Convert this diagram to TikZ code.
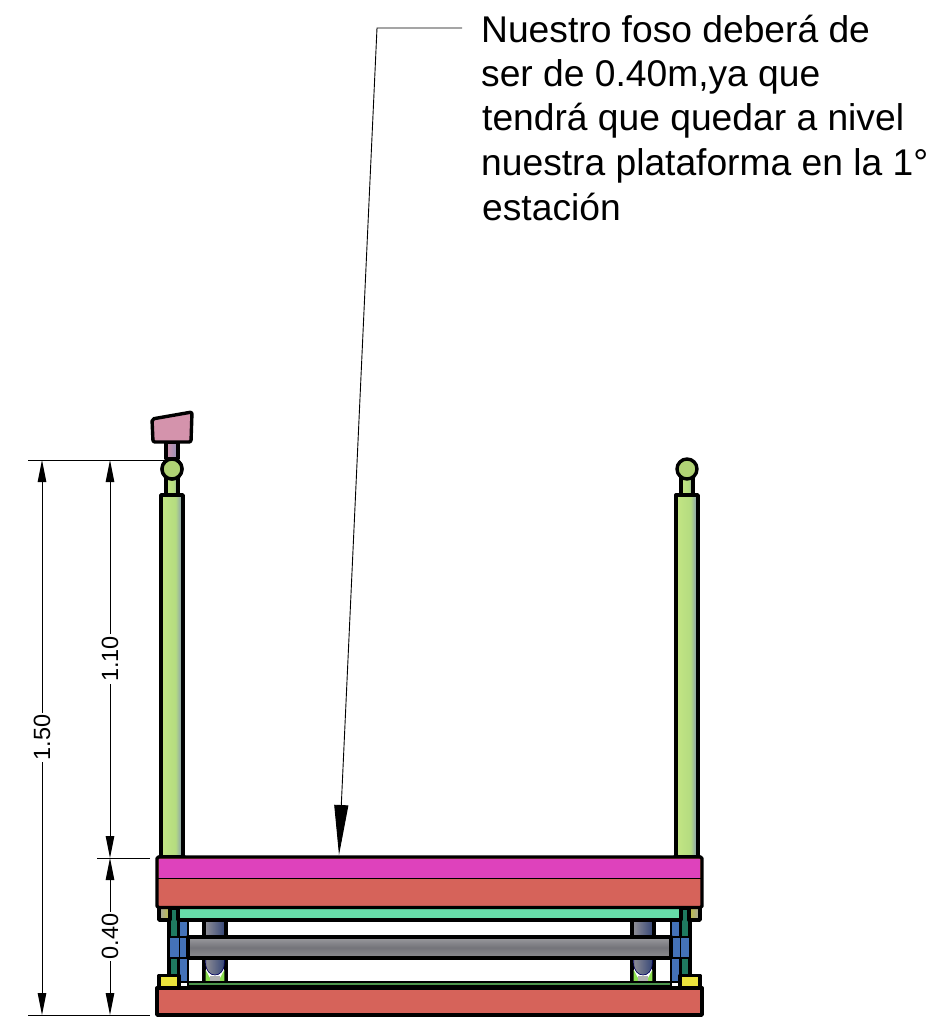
\documentclass[tikz,border=0pt]{standalone}
\usepackage{fontspec}
\setmainfont{Liberation Sans}
\usetikzlibrary{arrows.meta}
\definecolor{rojo}{HTML}{D6635A}
\definecolor{magen}{HTML}{DE42BC}
\definecolor{menta}{HTML}{66DBA8}
\definecolor{verdeo}{HTML}{1F7A60}
\definecolor{azul}{HTML}{4472B8}
\definecolor{amar}{HTML}{ECE43C}
\definecolor{rosa}{HTML}{D493AC}
\definecolor{bola}{HTML}{B0D274}
\definecolor{postel}{HTML}{C4E684}
\definecolor{postem}{HTML}{B4DC80}
\definecolor{poster}{HTML}{8090BC}
\definecolor{patal}{HTML}{8C8C94}
\definecolor{patar}{HTML}{384878}
\definecolor{tubot}{HTML}{9C9CA0}
\definecolor{tubom}{HTML}{74747A}
\definecolor{tubob}{HTML}{8E8E92}
\definecolor{brote}{HTML}{8CE050}
\definecolor{tallo}{HTML}{9090B8}
\pgfdeclarehorizontalshading{postes}{100bp}{color(0bp)=(postel); color(25bp)=(postel); color(58bp)=(postem); color(75bp)=(poster); color(100bp)=(poster)}
\tikzset{
  obj/.style={draw=black,line width=3.4pt,line join=round},
  thick2/.style={draw=black,line width=2.4pt},
  dimline/.style={draw=black,line width=0.9pt},
  dimarrow/.style={dimline,{Triangle[length=22pt,width=8.5pt]}-{Triangle[length=22pt,width=8.5pt]}},
  dimtxt/.style={rotate=90,font=\fontsize{23.5}{26}\selectfont,fill=white,inner sep=2pt},
  nota/.style={anchor=base west,inner sep=0pt,font=\fontsize{37.2}{40}\selectfont},
  poste/.style={obj,shade,shading=postes},
  tubo/.style={obj,top color=tubot,bottom color=tubob,middle color=tubom},
  pata/.style={left color=patal,right color=patar},
}
\begin{document}
\begin{tikzpicture}[x=1pt,y=-1pt]
\useasboundingbox (0,0) rectangle (929,1017);
% note
\node[nota] (n1) at (481,42) {Nuestro foso deberá de};
\node[nota] (n2) at (481,86) {ser de 0.40m,ya que};
\node[nota] (n3) at (482,130.5) {tendrá que quedar a nivel};
\node[nota] (n4) at (481,175.5) {nuestra plataforma en la 1°};
\node[nota] (n5) at (482,220) {estación};
% leader
\coordinate (lstart) at (462,28);
\coordinate (lbend) at (377,28);
\coordinate (ltip) at (339,855);
\draw[dimline,-{Triangle[length=50pt,width=14pt]}] (lstart) -- (lbend) -- (ltip);
% posts
\foreach \cx in {172,687}{
  \path[poste] (\cx-6,497) rectangle (\cx+6,474);
  \path[poste] (\cx-11,857) rectangle (\cx+11,495);
  \fill[black] (\cx-15,858) -- (\cx-11,852) -- (\cx-7,858) -- cycle;
  \fill[black] (\cx+15,858) -- (\cx+11,852) -- (\cx+7,858) -- cycle;
  \filldraw[obj,fill=bola] (\cx,469) circle (10);
}
% handle
\filldraw[obj,left color=rosa,right color=tallo] (166,459) rectangle (178,442);
\filldraw[obj,fill=rosa,rounded corners=2pt] (152,419) -- (192,412) -- (191,442) -- (153,442) -- cycle;
\filldraw[obj,fill=bola] (172,469) circle (10);
% columns, both sides
\filldraw[obj,fill=verdeo] (169,908) rectangle (179,978);
\filldraw[obj,fill=verdeo] (680,908) rectangle (690,978);
\filldraw[thick2,fill=azul] (179,918) rectangle (188,982);
\filldraw[thick2,fill=azul] (671,918) rectangle (680,982);
\filldraw[thick2,fill=azul] (169,937) rectangle (188,958);
\filldraw[thick2,fill=azul] (671,937) rectangle (690,958);
\draw[black,line width=1pt] (179,937) -- (179,958) (680,937) -- (680,958);
% legs
\foreach \lx in {204,632}{
  \filldraw[obj,fill=white] (\lx,918) rectangle (\lx+22,984);
  \fill[brote] (\lx+1.7,970) -- (\lx+8,982) -- (\lx+1.7,982) -- cycle;
  \fill[brote] (\lx+20.3,970) -- (\lx+14,982) -- (\lx+20.3,982) -- cycle;
  \fill[gray!60] (\lx+6,976) rectangle (\lx+16,982);
  \filldraw[draw=black!60!blue,line width=.6pt,pata] (\lx+1.7,958) -- (\lx+1.7,963) .. controls (\lx+1.7,979) and (\lx+20.3,979) .. (\lx+20.3,963) -- (\lx+20.3,958) -- cycle;
  \filldraw[draw=black,line width=.6pt,pata] (\lx+1.7,921) rectangle (\lx+20.3,937);
}
% tube
\filldraw[tubo] (188,937) rectangle (671,958);
% mint platform
\filldraw[obj,fill=menta] (178,907) rectangle (681,920);
% grey blocks
\filldraw[obj,left color=gray!70,right color=yellow!50!gray] (159,906) rectangle (170,920);
\filldraw[obj,left color=yellow!50!gray,right color=gray!70] (689,906) rectangle (700,920);
% lower base strip
\filldraw[thick2,fill=green!40!black!70] (188,982) rectangle (671,986);
% yellow blocks
\filldraw[obj,fill=amar] (159,975.5) rectangle (179,988);
\filldraw[obj,fill=amar] (680,975.5) rectangle (700,988);
% top deck
\filldraw[obj,fill=rojo,rounded corners=1.5pt] (157,857) rectangle (702,907.5);
\fill[magen] (158.7,858.7) rectangle (700.3,878);
\draw[black,line width=.9pt] (158,878) -- (701,878);
% bottom slab
\filldraw[obj,fill=rojo] (157,988) rectangle (702,1015);
% dimensions
\coordinate (tt) at (165,460);
\coordinate (tl) at (28,460);
\coordinate (mr) at (150,858);
\coordinate (ml) at (97,858);
\coordinate (br) at (150,1015);
\coordinate (bl) at (28,1015);
\draw[dimline] (tl) -- (tt);
\draw[dimline] (ml) -- (mr);
\draw[dimline] (bl) -- (br);
\draw[dimarrow] (42,460) -- (42,1015) node[dimtxt,pos=.5] (d150) {1.50};
\draw[dimarrow] (110,460) -- (110,858) node[dimtxt,pos=.5] (d110) {1.10};
\draw[dimarrow] (110,858) -- (110,1015) node[dimtxt,pos=.5] (d040) {0.40};
\end{tikzpicture}
\end{document}
